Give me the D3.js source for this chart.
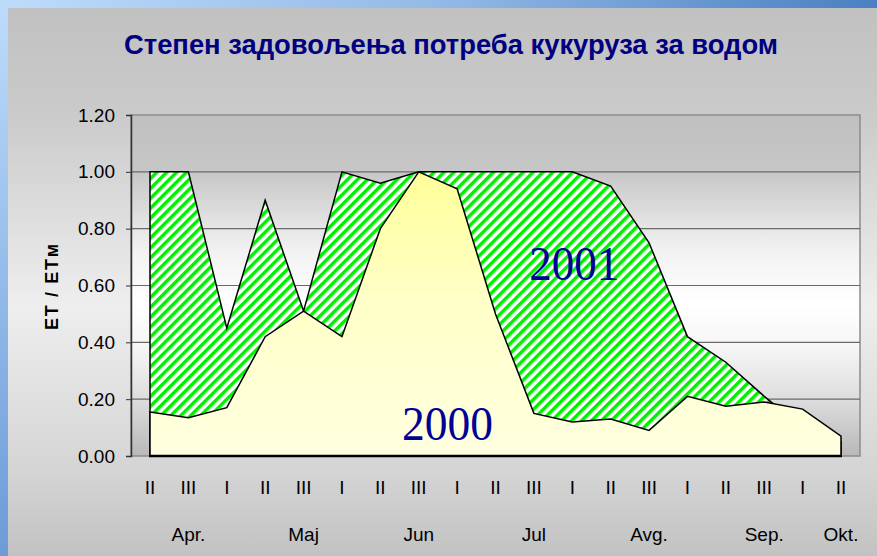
<!DOCTYPE html>
<html>
<head>
<meta charset="utf-8">
<script src="https://cdn.jsdelivr.net/npm/d3@7"></script>
<style>
  html, body { margin: 0; padding: 0; background: #ffffff; }
  svg { display: block; }
</style>
</head>
<body>
<div id="chart"></div>
<script>
// ---- data ----
const title = "Степен задовољења потреба кукуруза за водом";
const yAxisTitle = "ET / ETм";
const categories = ["II","III","I","II","III","I","II","III","I","II","III","I","II","III","I","II","III","I","II"];
const monthLabels = ["Apr.","Maj","Jun","Jul","Avg.","Sep.","Okt."];
const monthAt = [1, 4, 7, 10, 13, 16, 18];
const yTicks = [0, 0.2, 0.4, 0.6, 0.8, 1.0, 1.2];
const values2001 = [1.00, 1.00, 0.45, 0.90, 0.51, 1.00, 0.96, 1.00, 1.00, 1.00, 1.00, 1.00, 0.95, 0.75, 0.42, 0.33, 0.21, 0.10, 0.05];
const values2000 = [0.155, 0.135, 0.17, 0.42, 0.51, 0.42, 0.80, 1.00, 0.94, 0.50, 0.15, 0.12, 0.13, 0.09, 0.21, 0.175, 0.19, 0.165, 0.07];
const seriesNames = ["2000", "2001"];

// ---- layout ----
const W = 877, H = 556;
const wall = { left: 131, right: 860, top: 115, bottom: 456 };

const svg = d3.select("#chart").append("svg").attr("width", W).attr("height", H);
const defs = svg.append("defs");

function linGrad(id, x1, y1, x2, y2, stops) {
  const g = defs.append("linearGradient").attr("id", id)
    .attr("x1", x1).attr("y1", y1).attr("x2", x2).attr("y2", y2);
  stops.forEach(s => g.append("stop").attr("offset", s[0]).attr("stop-color", s[1]));
}
linGrad("blueTop", 0, 0, 1, 0, [[0, "#bddcfb"], [0.5, "#93b9e6"], [1, "#4a80c2"]]);
linGrad("blueLeft", 0, 0, 0, 1, [[0, "#bddcfb"], [1, "#6c9bd8"]]);
linGrad("chartBg", 0, 0, 0, 1, [[0, "#c0c0c0"], [0.2, "#cacaca"], [0.55, "#eeeeee"], [0.85, "#d4d4d4"], [1, "#c2c2c2"]]);
linGrad("wallBg", 0, 0, 0, 1, [[0, "#c0c0c0"], [0.16, "#c6c6c6"], [0.4, "#f2f2f2"], [0.55, "#ffffff"], [0.68, "#f6f6f6"], [0.84, "#dcdcdc"], [1, "#b8b8b8"]]);
linGrad("yellow", 0, 0, 0, 1, [[0, "#ffff99"], [0.45, "#ffffc8"], [1, "#ffffe0"]]);

const pat = defs.append("pattern").attr("id", "hatch")
  .attr("patternUnits", "userSpaceOnUse").attr("width", 7).attr("height", 7)
  .attr("patternTransform", "rotate(45)");
pat.append("rect").attr("width", 7).attr("height", 7).attr("fill", "#ffffff");
pat.append("rect").attr("width", 3.5).attr("height", 7).attr("fill", "#00f000");

// background + blue frame
svg.append("rect").attr("x", 0).attr("y", 0).attr("width", W).attr("height", H).attr("fill", "url(#chartBg)");
svg.append("rect").attr("x", 0).attr("y", 0).attr("width", W).attr("height", 8).attr("fill", "url(#blueTop)");
svg.append("rect").attr("x", 0).attr("y", 0).attr("width", 8).attr("height", H).attr("fill", "url(#blueLeft)");

// title
svg.append("text").attr("x", 451).attr("y", 54).attr("text-anchor", "middle")
  .attr("font-family", "Liberation Sans, Arial, sans-serif").attr("font-weight", "bold")
  .attr("font-size", 27).attr("textLength", 654).attr("lengthAdjust", "spacingAndGlyphs")
  .attr("fill", "#000080").text(title);

// scales
const x = d3.scalePoint().domain(d3.range(categories.length)).range([150, 841]);
const y = d3.scaleLinear().domain([0, 1.2]).range([wall.bottom, wall.top]);

// wall
svg.append("rect").attr("x", wall.left).attr("y", wall.top)
  .attr("width", wall.right - wall.left).attr("height", wall.bottom - wall.top)
  .attr("fill", "url(#wallBg)").attr("stroke", "#8c8c8c").attr("stroke-width", 1.5);

// gridlines
svg.append("g").selectAll("line").data(yTicks.filter(t => t > 0 && t < 1.2)).join("line")
  .attr("x1", wall.left).attr("x2", wall.right)
  .attr("y1", d => y(d)).attr("y2", d => y(d))
  .attr("stroke", "#6a6a6a").attr("stroke-width", 1.2);

// y axis
const yAxis = svg.append("g").attr("transform", `translate(${wall.left},0)`)
  .call(d3.axisLeft(y).tickValues(yTicks).tickSize(5).tickPadding(11).tickFormat(d3.format(".2f")));
yAxis.select(".domain").attr("stroke", "#333").attr("stroke-width", 1.5);
yAxis.selectAll(".tick line").attr("stroke", "#333");
yAxis.selectAll("text").attr("font-family", "Liberation Sans, Arial, sans-serif")
  .attr("font-size", 19).attr("fill", "#000");

// areas
const area = d3.area().x((d, i) => x(i)).y0(y(0)).y1(d => y(d));
svg.append("path").datum(values2001).attr("d", area)
  .attr("fill", "url(#hatch)").attr("stroke", "#000").attr("stroke-width", 1.5).attr("stroke-linejoin", "miter");
svg.append("path").datum(values2000).attr("d", area)
  .attr("fill", "url(#yellow)").attr("stroke", "#000").attr("stroke-width", 1.5).attr("stroke-linejoin", "miter");
svg.append("line").attr("x1", x(0) - 1).attr("x2", x(categories.length - 1) + 1)
  .attr("y1", y(0)).attr("y2", y(0)).attr("stroke", "#000").attr("stroke-width", 2.5);

// series labels
svg.append("text").attr("x", x(11) + 2).attr("y", 280).attr("text-anchor", "middle")
  .attr("font-family", "Liberation Serif, Times New Roman, serif").attr("font-size", 48)
  .attr("textLength", 90).attr("lengthAdjust", "spacingAndGlyphs")
  .attr("fill", "#000099").text(seriesNames[1]);
svg.append("text").attr("x", x(7) * 0.25 + x(8) * 0.75).attr("y", 440).attr("text-anchor", "middle")
  .attr("font-family", "Liberation Serif, Times New Roman, serif").attr("font-size", 48)
  .attr("textLength", 91).attr("lengthAdjust", "spacingAndGlyphs")
  .attr("fill", "#000099").text(seriesNames[0]);

// x labels
svg.append("g").selectAll("text").data(categories).join("text")
  .attr("x", (d, i) => x(i)).attr("y", 494).attr("text-anchor", "middle")
  .attr("font-family", "Liberation Sans, Arial, sans-serif").attr("font-size", 19)
  .attr("fill", "#000").text(d => d);
svg.append("g").selectAll("text").data(monthLabels).join("text")
  .attr("x", (d, i) => x(monthAt[i])).attr("y", 541).attr("text-anchor", "middle")
  .attr("font-family", "Liberation Sans, Arial, sans-serif").attr("font-size", 19)
  .attr("fill", "#000").text(d => d);

// y axis title
svg.append("text").attr("transform", "translate(58,287) rotate(-90)").attr("text-anchor", "middle")
  .attr("font-family", "Liberation Sans, Arial, sans-serif").attr("font-weight", "bold")
  .attr("font-size", 18).attr("textLength", 86).attr("lengthAdjust", "spacing")
  .attr("fill", "#000").text(yAxisTitle);
</script>
</body>
</html>
